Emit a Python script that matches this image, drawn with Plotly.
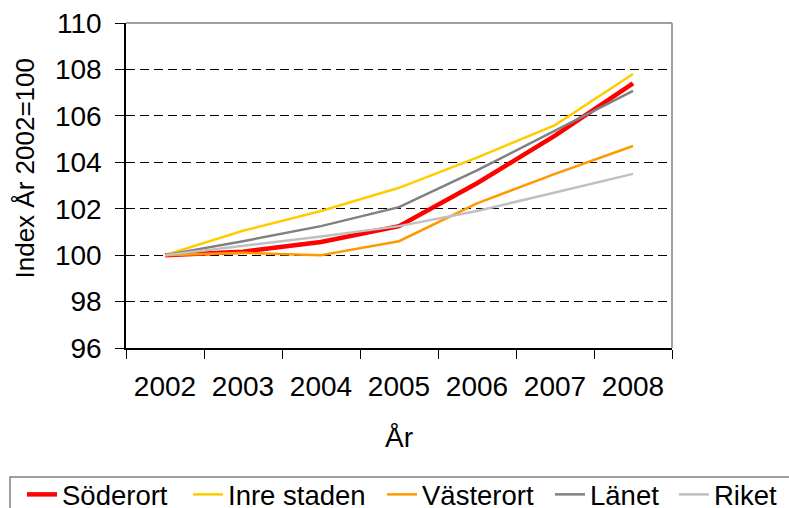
import plotly.graph_objects as go

years = ["2002", "2003", "2004", "2005", "2006", "2007", "2008"]
soderort = [100, 100.15, 100.57, 101.25, 103.1, 105.15, 107.4]
inre_staden = [100, 101.05, 101.9, 102.9, 104.2, 105.6, 107.8]
vasterort = [100, 100.1, 100.0, 100.6, 102.23, 103.5, 104.7]
lanet = [100, 100.6, 101.25, 102.07, 103.65, 105.36, 107.08]
riket = [100, 100.4, 100.8, 101.25, 101.9, 102.7, 103.5]
y_ticks = [96, 98, 100, 102, 104, 106, 108, 110]

series = [
    ("Söderort", soderort, "#FF0000", 4.5),
    ("Inre staden", inre_staden, "#FFCC00", 2.5),
    ("Västerort", vasterort, "#FF9900", 2.5),
    ("Länet", lanet, "#808080", 2.5),
    ("Riket", riket, "#C0C0C0", 2.5),
]
legend_left_px = [22, 188, 382, 550, 674]

W, H = 789, 508
L, R, T, B = 126, 117, 23, 160
pw, ph = W - L - R, H - T - B


def px(xp):
    return (xp - L) / pw


def py(yp):
    return (H - B - yp) / ph


fig = go.Figure()
legend_layouts = {}
for i, (name, vals, color, w) in enumerate(series):
    lg = "legend" if i == 0 else f"legend{i + 1}"
    fig.add_trace(go.Scatter(x=years, y=vals, mode="lines", name=name,
                             line=dict(color=color, width=w), legend=lg))
    legend_layouts[lg] = dict(orientation="h", yanchor="top", xanchor="left",
                              x=px(legend_left_px[i]), y=py(470),
                              borderwidth=0, bgcolor="rgba(0,0,0,0)",
                              font=dict(size=27.5), itemwidth=30)

font = "Liberation Sans, Arial, sans-serif"
fig.update_layout(
    width=W, height=H,
    margin=dict(l=L, r=R, t=T, b=B, autoexpand=False),
    paper_bgcolor="white", plot_bgcolor="white",
    font=dict(family=font, size=28, color="black"),
    showlegend=True,
    xaxis=dict(type="category", range=[-0.5, 6.5], tickson="boundaries",
               ticks="outside", ticklen=9, tickcolor="black", showline=True,
               linecolor="black", linewidth=1.5, showgrid=False,
               ticklabelstandoff=13),
    yaxis=dict(range=[96, 110], tickvals=y_ticks, ticks="outside", ticklen=9,
               tickcolor="black", showline=True, linecolor="black", linewidth=1.5,
               showgrid=True, gridcolor="black", gridwidth=1, griddash="9px,5px",
               zeroline=False, ticklabelstandoff=8),
    annotations=[
        dict(text="Index År 2002=100", textangle=-90, xref="paper", yref="paper",
             x=px(24), y=py(168.5), xanchor="center", yanchor="middle",
             showarrow=False, font=dict(size=26)),
        dict(text="År", xref="paper", yref="paper", x=px(399), y=py(437),
             xanchor="center", yanchor="middle", showarrow=False,
             font=dict(size=28)),
    ],
    shapes=[
        dict(type="line", xref="paper", yref="paper", x0=0, x1=1, y0=1, y1=1,
             line=dict(color="#808080", width=1.5), layer="above"),
        dict(type="line", xref="paper", yref="paper", x0=1, x1=1, y0=0, y1=1,
             line=dict(color="#808080", width=1.5), layer="above"),
        dict(type="rect", xref="paper", yref="paper", x0=px(10), x1=px(820),
             y0=py(477), y1=py(530), line=dict(color="#808080", width=1.5),
             fillcolor="rgba(0,0,0,0)", layer="below"),
    ],
)
fig.update_layout(**legend_layouts)

fig.write_html("out.html", config={"displayModeBar": False},
               post_script="document.body.style.margin='0px';")
